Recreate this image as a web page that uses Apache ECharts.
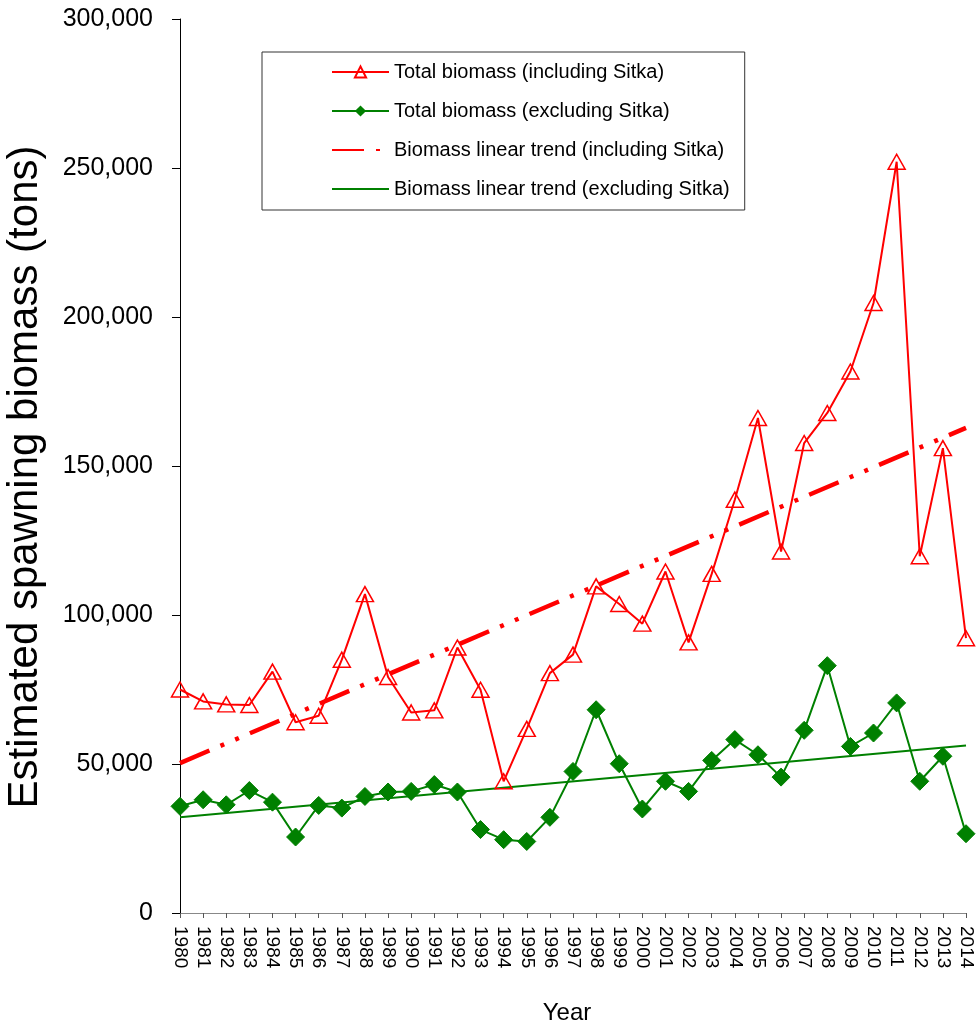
<!DOCTYPE html>
<html><head><meta charset="utf-8">
<script src="https://cdn.jsdelivr.net/npm/echarts@6/dist/echarts.min.js"></script>
<style>html,body{margin:0;padding:0;background:#fff}#c{width:976px;height:1025px}</style>
</head><body><div id="c"></div>
<script>
const years = ['1980','1981','1982','1983','1984','1985','1986','1987','1988','1989','1990','1991','1992','1993','1994','1995','1996','1997','1998','1999','2000','2001','2002','2003','2004','2005','2006','2007','2008','2009','2010','2011','2012','2013','2014'];
const totalIncl = [75000,71000,70000,69800,81000,64000,66200,85000,107000,79200,67300,68000,89100,74900,44200,61800,80500,86700,109600,103700,97100,114600,90800,113800,138700,166100,121300,157700,167800,181700,204700,252100,119700,156000,92200];
const totalExcl = [35800,38000,36300,41100,37200,25500,36100,35200,39100,40600,40800,43100,40600,28000,24600,24000,32100,47500,68200,50100,34900,44200,40800,51200,58200,53100,45600,61300,83000,55900,60400,70500,44200,52600,26600];
const trendIncl = [['1980',50300],['2014',162800]];
const trendExcl = [['1980',32100],['2014',56200]];
const yTicks = [0,50000,100000,150000,200000,250000,300000];

const chart = echarts.init(document.getElementById('c'), null, {renderer:'canvas'});
const font = 'Liberation Sans, Arial, sans-serif';
chart.setOption({
  animation:false,
  backgroundColor:'#fff',
  textStyle:{fontFamily:font},
  grid:{left:180,right:10,top:19,bottom:112,containLabel:false,outerBoundsMode:'none'},
  legend:{
    orient:'vertical', left:262, top:52,
    padding:[10,15,11,69],
    itemGap:19, itemWidth:57, itemHeight:14,
    borderColor:'#333', borderWidth:1,
    textStyle:{fontSize:20,color:'#000',fontFamily:font},
    data:[
      {name:'Total biomass (including Sitka)'},
      {name:'Total biomass (excluding Sitka)'},
      {name:'Biomass linear trend (including Sitka)',itemStyle:{opacity:0}},
      {name:'Biomass linear trend (excluding Sitka)',itemStyle:{opacity:0}}
    ]
  },
  xAxis:{
    type:'category', data:years, boundaryGap:false,
    name:'Year', nameLocation:'middle', nameGap:88, nameMoveOverlap:false,
    nameTextStyle:{fontSize:24,color:'#000',fontFamily:font,padding:[0,12,0,0]},
    axisLine:{lineStyle:{color:'#888',width:1}},
    axisTick:{show:true,length:5,lineStyle:{color:'#555'},alignWithLabel:true},
    axisLabel:{rotate:-90,fontSize:19,color:'#000',interval:0,margin:13,fontFamily:font},
    splitLine:{show:false}
  },
  yAxis:{
    type:'value', min:0, max:300000, interval:50000,
    name:'Estimated spawning biomass (tons)', nameLocation:'middle', nameGap:134, nameMoveOverlap:false,
    nameTextStyle:{fontSize:42,color:'#000',fontFamily:font,padding:[0,22,0,0]},
    axisLine:{show:true,lineStyle:{color:'#000',width:1}},
    axisTick:{show:true,length:8,lineStyle:{color:'#000'}},
    axisLabel:{fontSize:25,color:'#000',margin:27,fontFamily:font,
      formatter:v=>yTicks.includes(v)?v.toLocaleString('en-US'):''},
    splitLine:{show:false}
  },
  series:[
    {name:'Biomass linear trend (excluding Sitka)',type:'line',data:trendExcl,symbol:'none',
      lineStyle:{color:'#008000',width:2},itemStyle:{color:'#008000'},z:2},
    {name:'Biomass linear trend (including Sitka)',type:'line',data:trendIncl,symbol:'none',
      lineStyle:{color:'#ff0000',width:4.5,type:[32,12,4,12,4,12],cap:'butt'},itemStyle:{color:'#ff0000'},z:2},
    {name:'Total biomass (excluding Sitka)',type:'line',data:totalExcl,symbol:'diamond',symbolSize:18,
      lineStyle:{color:'#008000',width:2},itemStyle:{color:'#008000',borderColor:'#008000'},z:3},
    {name:'Total biomass (including Sitka)',type:'line',data:totalIncl,symbol:'triangle',symbolSize:[17,15],
      lineStyle:{color:'#ff0000',width:2},itemStyle:{color:'rgba(255,255,255,0)',borderColor:'#ff0000',borderWidth:1.5},z:4}
  ]
});
</script></body></html>
